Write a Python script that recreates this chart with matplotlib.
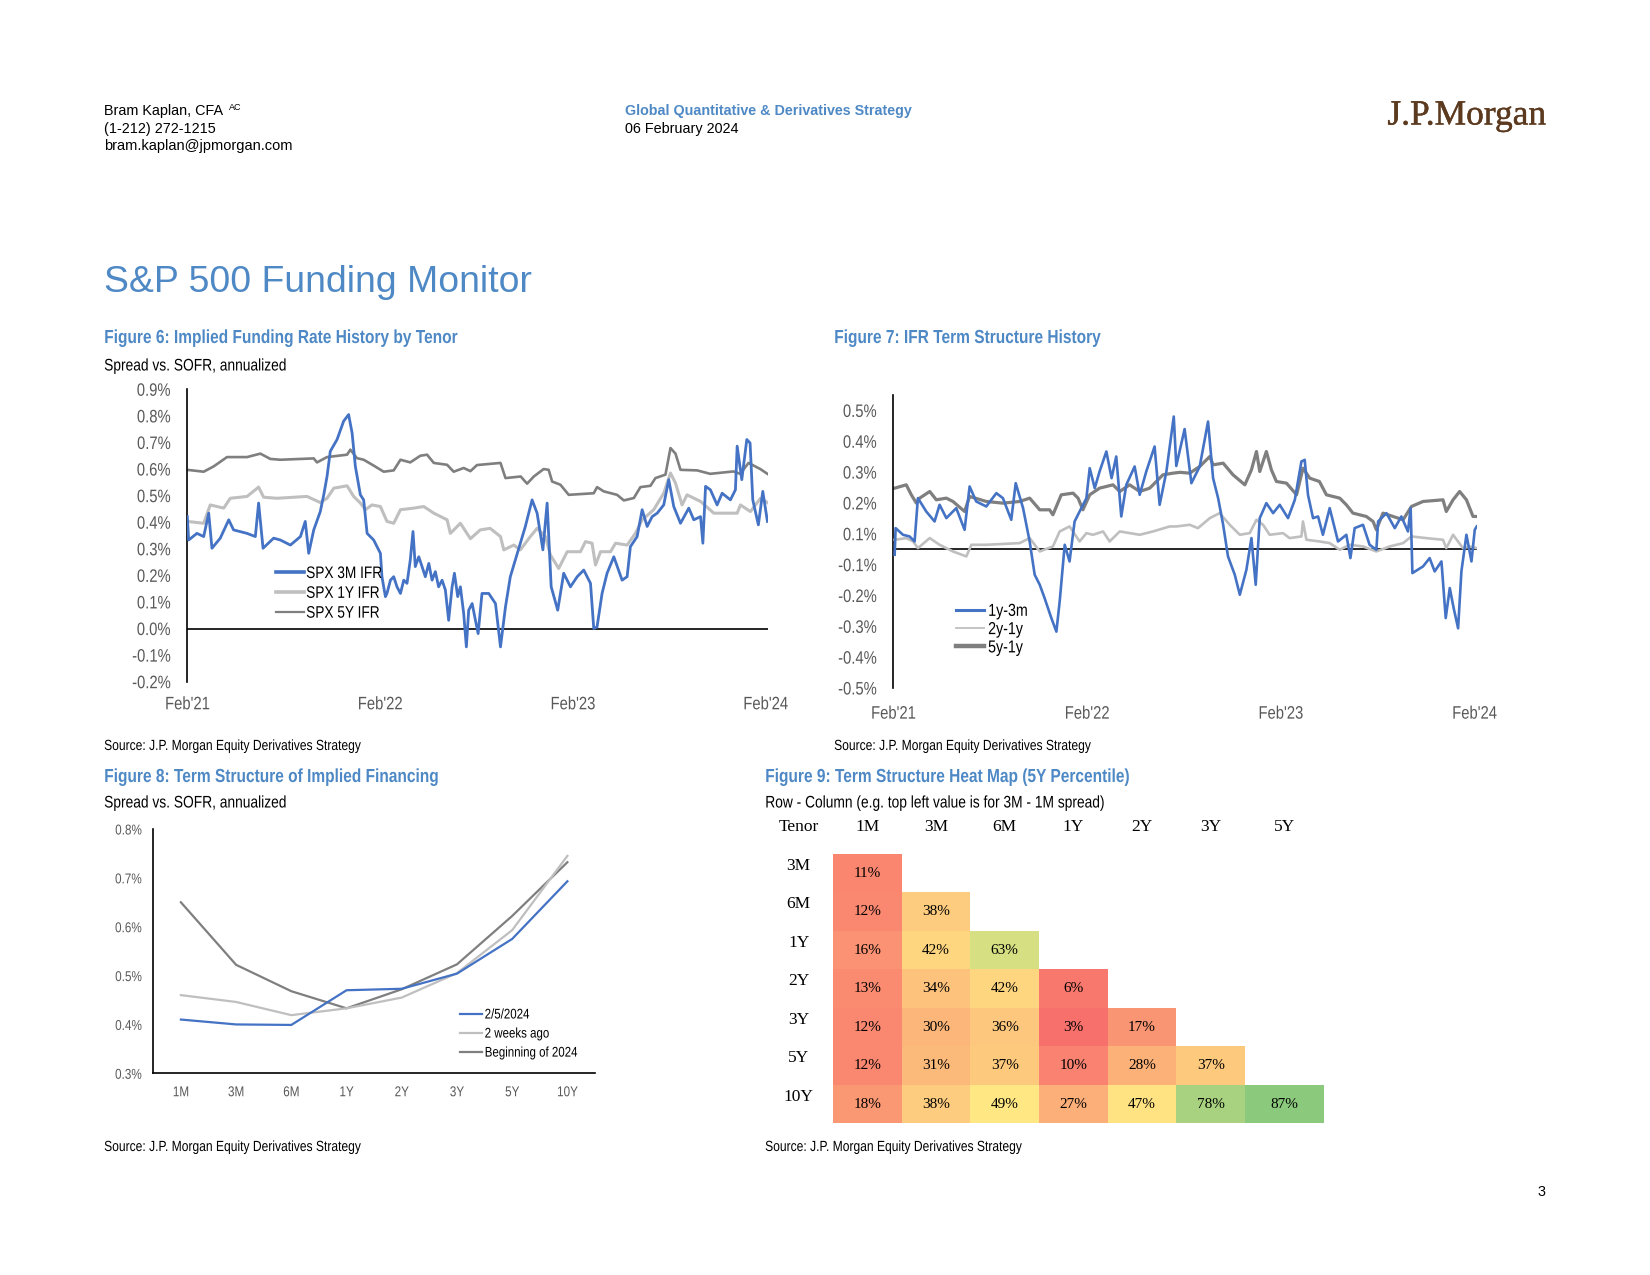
import numpy as np
import matplotlib
matplotlib.use('Agg')
import matplotlib.pyplot as plt
from matplotlib.lines import Line2D
from matplotlib.colors import LinearSegmentedColormap, Normalize
from matplotlib.patheffects import AbstractPathEffect, withStroke
from matplotlib.transforms import Affine2D

# ---------------- data ----------------
# Figure 6 (x = years since Feb'21, y = % spread vs SOFR)
f6_xticks = [0, 1, 2, 3]
f6_xlabels = ["Feb'21", "Feb'22", "Feb'23", "Feb'24"]
f6_yticks = [-0.2, -0.1, 0.0, 0.1, 0.2, 0.3, 0.4, 0.5, 0.6, 0.7, 0.8, 0.9]
f6_ylabels = ["-0.2%", "-0.1%", "0.0%", "0.1%", "0.2%", "0.3%", "0.4%", "0.5%", "0.6%", "0.7%", "0.8%", "0.9%"]

spx3m_t = [0.0, 0.007, 0.05, 0.085, 0.111, 0.128, 0.171, 0.215, 0.24, 0.31, 0.353, 0.37, 0.393, 0.448,
           0.483, 0.535, 0.587, 0.612, 0.63, 0.656, 0.69, 0.708, 0.725, 0.742, 0.777, 0.811, 0.837, 0.855,
           0.872, 0.898, 0.915, 0.933, 0.967, 1.002, 1.010, 1.019, 1.028, 1.036, 1.054, 1.071, 1.088, 1.106,
           1.123, 1.14, 1.157, 1.171, 1.183, 1.201, 1.218, 1.235, 1.253, 1.27, 1.287, 1.304, 1.322, 1.339,
           1.356, 1.374, 1.386, 1.403, 1.417, 1.434, 1.448, 1.46, 1.478, 1.495, 1.509, 1.529, 1.564, 1.599,
           1.625, 1.651, 1.676, 1.702, 1.728, 1.754, 1.789, 1.815, 1.845, 1.867, 1.888, 1.922, 1.953, 1.988,
           2.023, 2.057, 2.092, 2.109, 2.126, 2.152, 2.178, 2.213, 2.256, 2.282, 2.299, 2.334, 2.36, 2.386,
           2.412, 2.438, 2.472, 2.498, 2.524, 2.559, 2.602, 2.628, 2.663, 2.675, 2.689, 2.714, 2.749, 2.775,
           2.818, 2.844, 2.853, 2.877, 2.903, 2.92, 2.934, 2.963, 2.986, 3.01]
spx3m_v = [0.421, 0.333, 0.358, 0.346, 0.434, 0.302, 0.34, 0.409, 0.371, 0.358, 0.346, 0.472, 0.302, 0.34,
           0.333, 0.314, 0.346, 0.403, 0.283, 0.371, 0.44, 0.503, 0.572, 0.667, 0.711, 0.78, 0.805, 0.736,
           0.61, 0.503, 0.484, 0.358, 0.333, 0.283, 0.195, 0.157, 0.12, 0.132, 0.182, 0.195, 0.157, 0.132,
           0.182, 0.17, 0.258, 0.365, 0.233, 0.27, 0.233, 0.195, 0.245, 0.182, 0.214, 0.157, 0.182, 0.145,
           0.031, 0.157, 0.208, 0.12, 0.157, 0.057, -0.069, 0.069, 0.094, 0.031, -0.019, 0.132, 0.132, 0.094,
           -0.069, 0.082, 0.195, 0.258, 0.321, 0.384, 0.484, 0.434, 0.296, 0.472, 0.157, 0.069, 0.208, 0.157,
           0.195, 0.22, 0.17, 0.0, 0.006, 0.132, 0.208, 0.27, 0.182, 0.195, 0.308, 0.346, 0.447, 0.384,
           0.421, 0.434, 0.465, 0.56, 0.459, 0.396, 0.453, 0.409, 0.421, 0.321, 0.535, 0.522, 0.465, 0.509,
           0.484, 0.522, 0.686, 0.56, 0.711, 0.698, 0.484, 0.39, 0.516, 0.403]

spx1y_t = [0.0, 0.085, 0.119, 0.189, 0.223, 0.31, 0.37, 0.396, 0.465, 0.621, 0.69, 0.725, 0.76, 0.829,
           0.863, 0.898, 0.924, 0.958, 1.002, 1.036, 1.071, 1.106, 1.175, 1.227, 1.279, 1.348, 1.365, 1.417,
           1.469, 1.52, 1.571, 1.625, 1.642, 1.694, 1.728, 1.78, 1.815, 1.858, 1.884, 1.927, 1.971, 2.04,
           2.066, 2.1, 2.118, 2.144, 2.196, 2.222, 2.282, 2.325, 2.36, 2.42, 2.472, 2.507, 2.533, 2.567,
           2.593, 2.663, 2.732, 2.853, 2.87, 2.922, 2.974, 3.01]
spx1y_v = [0.403, 0.396, 0.465, 0.453, 0.49, 0.497, 0.532, 0.494, 0.49, 0.497, 0.474, 0.49, 0.528, 0.537,
           0.497, 0.472, 0.447, 0.465, 0.459, 0.403, 0.396, 0.447, 0.453, 0.459, 0.434, 0.409, 0.358, 0.396,
           0.338, 0.371, 0.377, 0.346, 0.296, 0.314, 0.296, 0.346, 0.377, 0.346, 0.277, 0.226, 0.289, 0.289,
           0.327, 0.321, 0.239, 0.289, 0.289, 0.321, 0.314, 0.358, 0.409, 0.447, 0.509, 0.585, 0.547, 0.465,
           0.503, 0.478, 0.434, 0.434, 0.465, 0.44, 0.49, 0.474]

spx5y_t = [0.0, 0.085, 0.137, 0.206, 0.31, 0.379, 0.431, 0.483, 0.656, 0.673, 0.725, 0.829, 0.846, 0.88,
           0.915, 0.967, 1.019, 1.071, 1.106, 1.157, 1.209, 1.244, 1.279, 1.348, 1.382, 1.434, 1.469, 1.503,
           1.625, 1.651, 1.73, 1.763, 1.798, 1.849, 1.875, 1.893, 1.936, 1.979, 2.109, 2.126, 2.161, 2.23,
           2.265, 2.317, 2.351, 2.403, 2.429, 2.481, 2.507, 2.533, 2.559, 2.645, 2.713, 2.834, 2.869, 2.912,
           2.973, 3.01]
spx5y_v = [0.597, 0.59, 0.61, 0.645, 0.645, 0.658, 0.638, 0.635, 0.64, 0.625, 0.645, 0.654, 0.673, 0.641,
           0.635, 0.613, 0.59, 0.595, 0.635, 0.625, 0.65, 0.654, 0.623, 0.616, 0.59, 0.604, 0.592, 0.615,
           0.623, 0.566, 0.572, 0.545, 0.572, 0.6, 0.597, 0.553, 0.541, 0.503, 0.509, 0.532, 0.516, 0.503,
           0.482, 0.491, 0.532, 0.537, 0.566, 0.579, 0.679, 0.658, 0.597, 0.595, 0.582, 0.591, 0.582, 0.623,
           0.6, 0.582]

# Figure 7 (Excel-style axis: 10 evenly spaced ticks from -0.5 to 0.5, shown to 1 decimal)
f7_xticks = [0, 1, 2, 3]
f7_xlabels = ["Feb'21", "Feb'22", "Feb'23", "Feb'24"]
f7_yticks = [-0.5, -0.3889, -0.2778, -0.1667, -0.0556, 0.0556, 0.1667, 0.2778, 0.3889, 0.5]
f7_ylabels = ["-0.5%", "-0.4%", "-0.3%", "-0.2%", "-0.1%", "0.1%", "0.2%", "0.3%", "0.4%", "0.5%"]

ts13_t = [0.007, 0.012, 0.05, 0.084, 0.11, 0.127, 0.17, 0.213, 0.239, 0.274, 0.325, 0.368, 0.394, 0.428,
          0.48, 0.532, 0.566, 0.609, 0.632, 0.67, 0.704, 0.73, 0.756, 0.781, 0.816, 0.842, 0.859, 0.885,
          0.91, 0.936, 0.962, 0.997, 1.014, 1.04, 1.065, 1.1, 1.127, 1.151, 1.177, 1.203, 1.246, 1.272,
          1.306, 1.349, 1.375, 1.41, 1.448, 1.461, 1.504, 1.539, 1.582, 1.625, 1.651, 1.677, 1.703, 1.728,
          1.763, 1.789, 1.823, 1.849, 1.871, 1.892, 1.926, 1.961, 1.995, 2.038, 2.073, 2.107, 2.124, 2.141,
          2.167, 2.193, 2.218, 2.253, 2.296, 2.339, 2.36, 2.382, 2.425, 2.459, 2.494, 2.503, 2.546, 2.589,
          2.623, 2.657, 2.671, 2.68, 2.735, 2.769, 2.795, 2.83, 2.852, 2.873, 2.893, 2.916, 2.933, 2.959,
          2.985, 3.002, 3.012]
ts13_v = [-0.02, 0.076, 0.052, 0.046, 0.028, 0.184, 0.136, 0.1, 0.16, 0.112, 0.148, 0.07, 0.226, 0.172,
          0.154, 0.202, 0.184, 0.106, 0.238, 0.148, 0.028, -0.092, -0.128, -0.176, -0.248, -0.297, -0.188, 0.016,
          -0.044, 0.1, 0.136, 0.184, 0.292, 0.22, 0.28, 0.352, 0.256, 0.334, 0.118, 0.232, 0.298, 0.196,
          0.28, 0.37, 0.16, 0.28, 0.478, 0.30, 0.433, 0.238, 0.298, 0.46, 0.256, 0.184, 0.088, -0.026,
          -0.092, -0.164, -0.074, 0.04, -0.128, 0.112, 0.166, 0.13, 0.16, 0.112, 0.178, 0.316, 0.322, 0.196,
          0.112, 0.118, 0.052, 0.148, 0.028, 0.052, -0.032, 0.076, 0.088, 0.016, -0.002, 0.1, 0.13, 0.076,
          0.118, 0.064, 0.148, -0.086, -0.062, -0.032, -0.08, -0.044, -0.248, -0.14, -0.212, -0.285, -0.08, 0.052,
          -0.044, 0.07, 0.082]

ts21_t = [0.007, 0.067, 0.102, 0.127, 0.188, 0.239, 0.308, 0.377, 0.403, 0.48, 0.652, 0.704, 0.756, 0.824,
          0.859, 0.91, 0.962, 0.997, 1.031, 1.083, 1.117, 1.169, 1.272, 1.341, 1.427, 1.461, 1.53, 1.573,
          1.634, 1.685, 1.737, 1.789, 1.84, 1.875, 1.909, 1.943, 2.012, 2.046, 2.107, 2.115, 2.133, 2.2,
          2.253, 2.305, 2.356, 2.425, 2.494, 2.563, 2.632, 2.675, 2.752, 2.838, 2.855, 2.89, 2.941, 2.976,
          3.012]
ts21_v = [0.034, 0.04, 0.028, 0.004, 0.04, 0.016, -0.008, -0.026, 0.016, 0.016, 0.022, 0.04, -0.008, 0.01,
          0.064, 0.082, 0.028, 0.058, 0.052, 0.064, 0.028, 0.064, 0.052, 0.064, 0.082, 0.082, 0.088, 0.076,
          0.112, 0.13, 0.088, 0.052, 0.058, 0.106, 0.088, 0.052, 0.058, 0.04, 0.046, 0.1, 0.034, 0.028,
          0.022, -0.002, 0.016, 0.01, -0.008, 0.01, 0.022, 0.046, 0.04, 0.034, 0.004, 0.052, 0.004, 0.01,
          0.004]

ts51_t = [0.007, 0.067, 0.093, 0.119, 0.136, 0.188, 0.222, 0.274, 0.308, 0.368, 0.394, 0.48, 0.566, 0.652,
          0.704, 0.756, 0.807, 0.824, 0.867, 0.928, 0.954, 0.979, 1.014, 1.065, 1.134, 1.169, 1.22, 1.272,
          1.324, 1.392, 1.444, 1.48, 1.53, 1.582, 1.634, 1.651, 1.703, 1.754, 1.815, 1.849, 1.875, 1.892,
          1.926, 1.952, 1.978, 2.03, 2.082, 2.115, 2.15, 2.2, 2.236, 2.305, 2.339, 2.373, 2.442, 2.477,
          2.494, 2.528, 2.58, 2.632, 2.675, 2.735, 2.838, 2.855, 2.89, 2.924, 2.959, 2.993, 3.012]
ts51_v = [0.22, 0.232, 0.196, 0.166, 0.184, 0.208, 0.178, 0.184, 0.172, 0.136, 0.19, 0.172, 0.166, 0.172,
          0.184, 0.142, 0.142, 0.124, 0.196, 0.202, 0.184, 0.142, 0.196, 0.22, 0.232, 0.208, 0.232, 0.208,
          0.22, 0.268, 0.274, 0.277, 0.274, 0.298, 0.334, 0.304, 0.31, 0.268, 0.232, 0.286, 0.352, 0.28,
          0.352, 0.286, 0.244, 0.238, 0.196, 0.292, 0.256, 0.244, 0.196, 0.184, 0.16, 0.13, 0.118, 0.1,
          0.07, 0.13, 0.118, 0.106, 0.154, 0.172, 0.178, 0.136, 0.178, 0.208, 0.178, 0.118, 0.118]

# Figure 8
f8_tenors = ["1M", "3M", "6M", "1Y", "2Y", "3Y", "5Y", "10Y"]
f8_latest = [0.41, 0.40, 0.399, 0.47, 0.473, 0.504, 0.575, 0.693]
f8_2wk = [0.46, 0.446, 0.419, 0.433, 0.455, 0.505, 0.593, 0.745]
f8_boy = [0.65, 0.522, 0.468, 0.433, 0.472, 0.523, 0.622, 0.732]
f8_yticks = [0.3, 0.4, 0.5, 0.6, 0.7, 0.8]
f8_ylabels = ["0.3%", "0.4%", "0.5%", "0.6%", "0.7%", "0.8%"]

# Figure 9
hm_cols = ["1M", "3M", "6M", "1Y", "2Y", "3Y", "5Y"]
hm_rows = ["3M", "6M", "1Y", "2Y", "3Y", "5Y", "10Y"]
hm_vals = [[11],
           [12, 38],
           [16, 42, 63],
           [13, 34, 42, 6],
           [12, 30, 36, 3, 17],
           [12, 31, 37, 10, 28, 37],
           [18, 38, 49, 27, 47, 78, 87]]

# ---------------- style ----------------
ARIAL = ['Liberation Sans', 'DejaVu Sans']
SERIF = ['Liberation Serif', 'DejaVu Serif']
plt.rcParams['font.family'] = ARIAL

BLUE = '#4472C4'
LGRAY = '#BFBFBF'
DGRAY = '#7F7F7F'
TITLE_BLUE = '#4E89C5'
TICK = '#595959'
LOGO = '#5B3A1F'
SX = 0.82  # horizontal squeeze to imitate a narrow sans face


class Squeeze(AbstractPathEffect):
    """Draw text horizontally condensed (narrow face look)."""

    def __init__(self, sx=SX, anchor='left'):
        super().__init__()
        self.sx = sx
        self.anchor = anchor

    def draw_path(self, renderer, gc, tpath, affine, rgbFace=None):
        bb = tpath.get_extents(affine)
        if self.anchor == 'left':
            x0 = bb.x0
        elif self.anchor == 'right':
            x0 = bb.x1
        else:
            x0 = 0.5 * (bb.x0 + bb.x1)
        t = affine + Affine2D().translate(-x0, 0).scale(self.sx, 1).translate(x0, 0)
        renderer.draw_path(gc, tpath, t, rgbFace)


W, H = 1650, 1275
fig = plt.figure(figsize=(W / 100, H / 100), dpi=100)


def P(x, y):
    return x / W, 1 - y / H


def axes_px(l, t, r, b):
    return fig.add_axes([l / W, 1 - b / H, (r - l) / W, (b - t) / H])


def txt(x, y, s, narrow=False, **kw):
    kw.setdefault('va', 'center')
    t = fig.text(*P(x, y), s, **kw)
    if narrow:
        t.set_path_effects([Squeeze(SX, 'left')])
    return t


def narrow_ticks(ax, yanchor='right'):
    for lab in ax.get_xticklabels():
        lab.set_path_effects([Squeeze(SX, 'center')])
    for lab in ax.get_yticklabels():
        lab.set_path_effects([Squeeze(SX, yanchor)])


def narrow_legend(leg):
    for t in leg.get_texts():
        t.set_path_effects([Squeeze(SX, 'left')])


# ---------------- header ----------------
txt(104, 111.5, 'Bram Kaplan, CFA', size=10.4, color='#000000')
txt(229, 108, 'AC', size=6.5, color='#000000')
txt(104, 129.3, '(1-212) 272-1215', size=10.4)
txt(104, 146.2, 'bram.kaplan@jpmorgan.com', size=10.5)
txt(625, 111.5, 'Global Quantitative & Derivatives Strategy', size=10.3,
    weight='bold', color=TITLE_BLUE)
txt(625, 128.5, '06 February 2024', size=10.4)
logo = txt(1546, 116, 'J.P.Morgan', family=SERIF, size=25.5, color=LOGO, ha='right')
logo.set_path_effects([withStroke(linewidth=0.3, foreground=LOGO)])
txt(104, 283, 'S&P 500 Funding Monitor', size=26.9, color=TITLE_BLUE)
txt(1545, 1192, '3', size=10.4, ha='right')

# section titles
for x, y, s in [(104, 338.5, 'Figure 6: Implied Funding Rate History by Tenor'),
                (834, 338.5, 'Figure 7: IFR Term Structure History'),
                (104, 777.5, 'Figure 8: Term Structure of Implied Financing'),
                (765, 777.5, 'Figure 9: Term Structure Heat Map (5Y Percentile)')]:
    txt(x, y, s, narrow=True, size=13.6, weight='bold', color=TITLE_BLUE)
for x, y, s in [(104, 366, 'Spread vs. SOFR, annualized'),
                (104, 803, 'Spread vs. SOFR, annualized'),
                (765, 803, 'Row - Column (e.g. top left value is for 3M - 1M spread)')]:
    txt(x, y, s, narrow=True, size=12.1)
for x, y in [(104, 746), (834, 746), (104, 1147), (765, 1147)]:
    txt(x, y, 'Source: J.P. Morgan Equity Derivatives Strategy', narrow=True, size=10.6)


def style_ts(ax):
    for s in ['top', 'right', 'bottom']:
        ax.spines[s].set_visible(False)
    ax.spines['left'].set_color('black')
    ax.spines['left'].set_linewidth(1.2)
    ax.tick_params(length=0, labelsize=13, labelcolor=TICK)
    ax.axhline(0, color='black', lw=1.2, zorder=1)


# ---------------- Figure 6 ----------------
ax6 = axes_px(187.3, 389.3, 768, 681.7)
ax6.plot(spx5y_t, spx5y_v, color=DGRAY, lw=1.9, zorder=2)
ax6.plot(spx1y_t, spx1y_v, color=LGRAY, lw=2.2, zorder=3)
ax6.plot(spx3m_t, spx3m_v, color=BLUE, lw=2.0, zorder=4)
ax6.set_xlim(0, 3.013)
ax6.set_ylim(-0.2, 0.9)
ax6.set_xticks(f6_xticks, f6_xlabels)
ax6.set_yticks(f6_yticks, f6_ylabels)
style_ts(ax6)
ax6.tick_params(axis='y', pad=12)
ax6.tick_params(axis='x', pad=10.5)
narrow_ticks(ax6)
h6 = [Line2D([], [], color=BLUE, lw=2.6), Line2D([], [], color=LGRAY, lw=2.6),
      Line2D([], [], color=DGRAY, lw=1.6)]
leg6 = ax6.legend(h6, ['SPX 3M IFR', 'SPX 1Y IFR', 'SPX 5Y IFR'], loc='upper left',
                  bbox_to_anchor=P(275.7, 566), bbox_transform=fig.transFigure, frameon=False,
                  fontsize=12, handlelength=1.7, handletextpad=0.12, labelspacing=0.29,
                  borderpad=0, borderaxespad=0)
narrow_legend(leg6)

# ---------------- Figure 7 ----------------
ax7 = axes_px(893.3, 395, 1476.7, 688)
ax7.plot(ts51_t, ts51_v, color=DGRAY, lw=2.3, zorder=2)
ax7.plot(ts21_t, ts21_v, color=LGRAY, lw=1.9, zorder=3)
ax7.plot(ts13_t, ts13_v, color=BLUE, lw=1.9, zorder=4)
ax7.set_xlim(0, 3.012)
ax7.set_ylim(-0.5, 0.5556)
ax7.set_xticks(f7_xticks, f7_xlabels)
ax7.set_yticks(f7_yticks, f7_ylabels)
style_ts(ax7)
ax7.tick_params(axis='y', pad=12)
ax7.tick_params(axis='x', pad=12.7)
narrow_ticks(ax7)
h7 = [Line2D([], [], color=BLUE, lw=2.2), Line2D([], [], color=LGRAY, lw=1.3),
      Line2D([], [], color=DGRAY, lw=3.2)]
leg7 = ax7.legend(h7, ['1y-3m', '2y-1y', '5y-1y'], loc='upper left',
                  bbox_to_anchor=P(955.5, 603.7), bbox_transform=fig.transFigure, frameon=False,
                  fontsize=12.5, handlelength=1.65, handletextpad=0.22, labelspacing=0.18,
                  borderpad=0, borderaxespad=0)
narrow_legend(leg7)

# ---------------- Figure 8 ----------------
ax8 = axes_px(153.3, 829, 595, 1073.3)
x8 = np.arange(len(f8_tenors))
l1, = ax8.plot(x8, f8_latest, color=BLUE, lw=1.6, zorder=4)
l2, = ax8.plot(x8, f8_2wk, color=LGRAY, lw=1.6, zorder=3)
l3, = ax8.plot(x8, f8_boy, color=DGRAY, lw=1.6, zorder=2)
ax8.set_xlim(-0.5, len(f8_tenors) - 0.5)
ax8.set_ylim(0.3, 0.8)
ax8.set_xticks(x8, f8_tenors)
ax8.set_yticks(f8_yticks, f8_ylabels)
for s in ['top', 'right']:
    ax8.spines[s].set_visible(False)
for s in ['left', 'bottom']:
    ax8.spines[s].set_color('black')
    ax8.spines[s].set_linewidth(1.2)
ax8.tick_params(length=0, labelsize=10.3, labelcolor=TICK)
ax8.tick_params(axis='y', pad=8.4)
ax8.tick_params(axis='x', pad=8.6)
narrow_ticks(ax8)
leg8 = ax8.legend([l1, l2, l3], ['2/5/2024', '2 weeks ago', 'Beginning of 2024'], loc='upper left',
                  bbox_to_anchor=P(460, 1007.5), bbox_transform=fig.transFigure, frameon=False,
                  fontsize=10.1, handlelength=1.6, handletextpad=0.15, labelspacing=0.36,
                  borderpad=0, borderaxespad=0)
narrow_legend(leg8)

# ---------------- Figure 9 ----------------
ax9 = axes_px(833, 854, 1324, 1123.3)
n = len(hm_rows)
mat = np.full((n, len(hm_cols)), np.nan)
for i, row in enumerate(hm_vals):
    mat[i, :len(row)] = row
cmap = LinearSegmentedColormap.from_list('ryg', ['#F8696B', '#FFEB84', '#63BE7B'])
xedges = np.r_[np.arange(len(hm_cols)), len(hm_cols) - 1 + 1.15]
yedges = np.arange(n + 1)
ax9.pcolormesh(xedges, yedges, np.ma.masked_invalid(mat), cmap=cmap,
               norm=Normalize(0, 100), shading='flat')
ax9.set_xlim(0, xedges[-1])
ax9.set_ylim(n, 0)
ax9.axis('off')
xc = (xedges[:-1] + xedges[1:]) / 2
for i, row in enumerate(hm_vals):
    for j, v in enumerate(row):
        ax9.text(xc[j], i + 0.5, f'{v}%', ha='center', va='center', family=SERIF, size=11)
for j, c in enumerate(hm_cols):
    ax9.text(xc[j], -0.70, c, ha='center', va='center', family=SERIF, size=12.5)
ax9.text(-0.5, -0.70, 'Tenor', ha='center', va='center', family=SERIF, size=12.5)
for i, r in enumerate(hm_rows):
    ax9.text(-0.5, i + 0.31, r, ha='center', va='center', family=SERIF, size=12.5)

fig.savefig('out.png', dpi=100)
